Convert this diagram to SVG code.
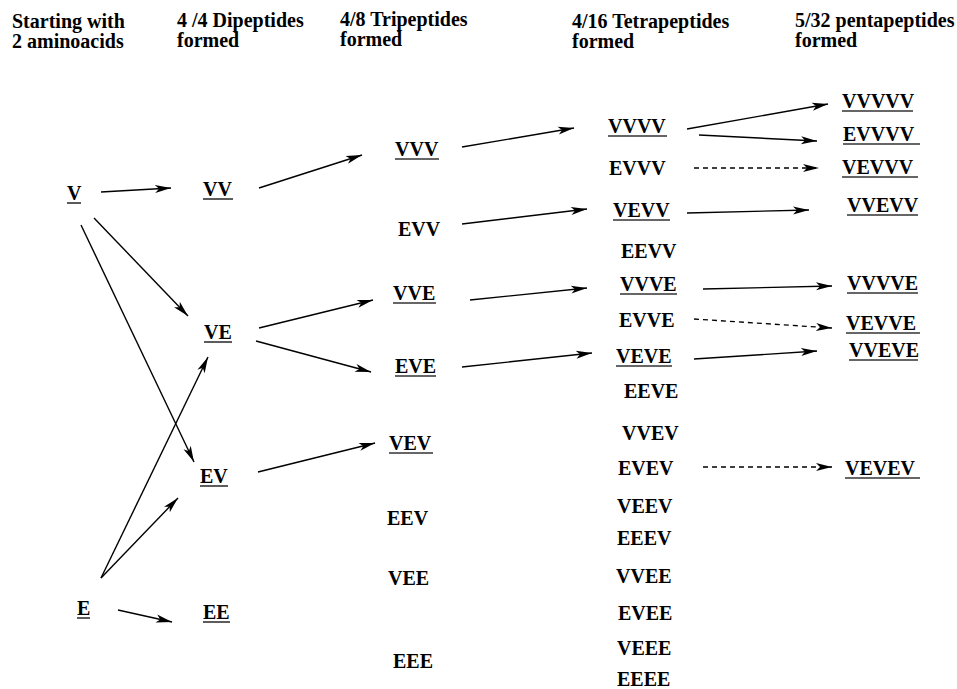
<svg xmlns="http://www.w3.org/2000/svg" width="957" height="689" viewBox="0 0 957 689">
<style>
text{font-family:"Liberation Serif","Times New Roman",serif;font-weight:bold;font-size:20px;fill:#000}
.ul{stroke:#333;stroke-width:1.6}
.c{stroke:#000;stroke-width:1.4;fill:none;marker-end:url(#ah)}
.d{stroke:#000;stroke-width:1.3;fill:none;stroke-dasharray:5 4;marker-end:url(#ah)}
</style>
<defs>
<marker id="ah" markerUnits="userSpaceOnUse" markerWidth="18" markerHeight="9" refX="16" refY="4" orient="auto" overflow="visible">
<path d="M0,0 L16,4 L0,8 L4,4 z" fill="#000"/>
</marker>
</defs>
<rect width="957" height="689" fill="#fff"/>
<g id="headers">
<text x="12" y="28">Starting with</text><text x="12" y="48">2 aminoacids</text>
<text x="177" y="27">4 /4 Dipeptides</text><text x="177" y="47">formed</text>
<text x="340" y="26">4/8 Tripeptides</text><text x="340" y="46">formed</text>
<text x="572" y="28">4/16 Tetrapeptides</text><text x="572" y="48">formed</text>
<text x="795" y="27">5/32 pentapeptides</text><text x="795" y="47">formed</text>
</g>
<g id="connectors">
<line class="c" x1="101" y1="192" x2="171" y2="188"/>
<line class="c" x1="94" y1="218" x2="188" y2="316"/>
<line class="c" x1="81" y1="225" x2="194" y2="462"/>
<line class="c" x1="101" y1="578" x2="208" y2="357"/>
<line class="c" x1="101" y1="578" x2="178" y2="498"/>
<line class="c" x1="118" y1="610" x2="172" y2="622"/>
<line class="c" x1="259" y1="188" x2="362" y2="155"/>
<line class="c" x1="259" y1="328" x2="373" y2="300"/>
<line class="c" x1="256" y1="341" x2="371" y2="372"/>
<line class="c" x1="258" y1="472" x2="375" y2="443"/>
<line class="c" x1="462" y1="147" x2="574" y2="128"/>
<line class="c" x1="462" y1="224" x2="587" y2="209"/>
<line class="c" x1="470" y1="300" x2="587" y2="288"/>
<line class="c" x1="462" y1="367" x2="592" y2="353"/>
<line class="c" x1="687" y1="129" x2="828" y2="104"/>
<line class="c" x1="699" y1="135" x2="817" y2="141"/>
<line class="d" x1="694" y1="168" x2="819" y2="168"/>
<line class="c" x1="687" y1="213" x2="809" y2="210"/>
<line class="c" x1="703" y1="289" x2="832" y2="286"/>
<line class="d" x1="694" y1="319" x2="832" y2="328"/>
<line class="c" x1="694" y1="359" x2="817" y2="351"/>
<line class="d" x1="703" y1="467" x2="832" y2="467"/>
</g>
<g id="n-V"><text x="67" y="200">V</text><line class="ul" x1="67" y1="203" x2="81" y2="203"/></g>
<g id="n-E"><text x="77" y="615">E</text><line class="ul" x1="77" y1="618" x2="90" y2="618"/></g>
<g id="n-VV"><text x="203" y="196">VV</text><line class="ul" x1="203" y1="199" x2="233" y2="199"/></g>
<g id="n-VE"><text x="204" y="339">VE</text><line class="ul" x1="204" y1="342" x2="232" y2="342"/></g>
<g id="n-EV"><text x="200" y="483">EV</text><line class="ul" x1="200" y1="486" x2="228" y2="486"/></g>
<g id="n-EE"><text x="203" y="619">EE</text><line class="ul" x1="203" y1="622" x2="230" y2="622"/></g>
<g id="n-VVV"><text x="395" y="156">VVV</text><line class="ul" x1="395" y1="159" x2="439" y2="159"/></g>
<g id="n-EVV"><text x="398" y="236">EVV</text></g>
<g id="n-VVE"><text x="393" y="300">VVE</text><line class="ul" x1="393" y1="303" x2="436" y2="303"/></g>
<g id="n-EVE"><text x="395" y="373">EVE</text><line class="ul" x1="395" y1="376" x2="436" y2="376"/></g>
<g id="n-VEV"><text x="389" y="450">VEV</text><line class="ul" x1="389" y1="453" x2="433" y2="453"/></g>
<g id="n-EEV"><text x="387" y="525">EEV</text></g>
<g id="n-VEE"><text x="388" y="585">VEE</text></g>
<g id="n-EEE"><text x="393" y="668">EEE</text></g>
<g id="n-VVVV"><text x="608" y="133">VVVV</text><line class="ul" x1="608" y1="136" x2="667" y2="136"/></g>
<g id="n-EVVV"><text x="609" y="175">EVVV</text></g>
<g id="n-VEVV"><text x="613" y="217">VEVV</text><line class="ul" x1="613" y1="220" x2="670" y2="220"/></g>
<g id="n-EEVV"><text x="621" y="258">EEVV</text></g>
<g id="n-VVVE"><text x="620" y="291">VVVE</text><line class="ul" x1="620" y1="294" x2="677" y2="294"/></g>
<g id="n-EVVE"><text x="619" y="327">EVVE</text></g>
<g id="n-VEVE"><text x="616" y="363">VEVE</text><line class="ul" x1="616" y1="366" x2="672" y2="366"/></g>
<g id="n-EEVE"><text x="624" y="398">EEVE</text></g>
<g id="n-VVEV"><text x="622" y="440">VVEV</text></g>
<g id="n-EVEV"><text x="618" y="475">EVEV</text></g>
<g id="n-VEEV"><text x="617" y="513">VEEV</text></g>
<g id="n-EEEV"><text x="617" y="545">EEEV</text></g>
<g id="n-VVEE"><text x="616" y="583">VVEE</text></g>
<g id="n-EVEE"><text x="618" y="620">EVEE</text></g>
<g id="n-VEEE"><text x="617" y="655">VEEE</text></g>
<g id="n-EEEE"><text x="617" y="686">EEEE</text></g>
<g id="n-VVVVV"><text x="842" y="108">VVVVV</text><line class="ul" x1="842" y1="111" x2="913" y2="111"/></g>
<g id="n-EVVVV"><text x="843" y="141">EVVVV</text><line class="ul" x1="843" y1="144" x2="920" y2="144"/></g>
<g id="n-VEVVV"><text x="842" y="174">VEVVV</text><line class="ul" x1="842" y1="177" x2="918" y2="177"/></g>
<g id="n-VVEVV"><text x="847" y="212">VVEVV</text><line class="ul" x1="847" y1="215" x2="918" y2="215"/></g>
<g id="n-VVVVE"><text x="847" y="290">VVVVE</text><line class="ul" x1="847" y1="293" x2="918" y2="293"/></g>
<g id="n-VEVVE"><text x="846" y="330">VEVVE</text><line class="ul" x1="846" y1="333" x2="920" y2="333"/></g>
<g id="n-VVEVE"><text x="849" y="357">VVEVE</text><line class="ul" x1="849" y1="360" x2="918" y2="360"/></g>
<g id="n-VEVEV"><text x="845" y="475">VEVEV</text><line class="ul" x1="845" y1="478" x2="920" y2="478"/></g>
</svg>
